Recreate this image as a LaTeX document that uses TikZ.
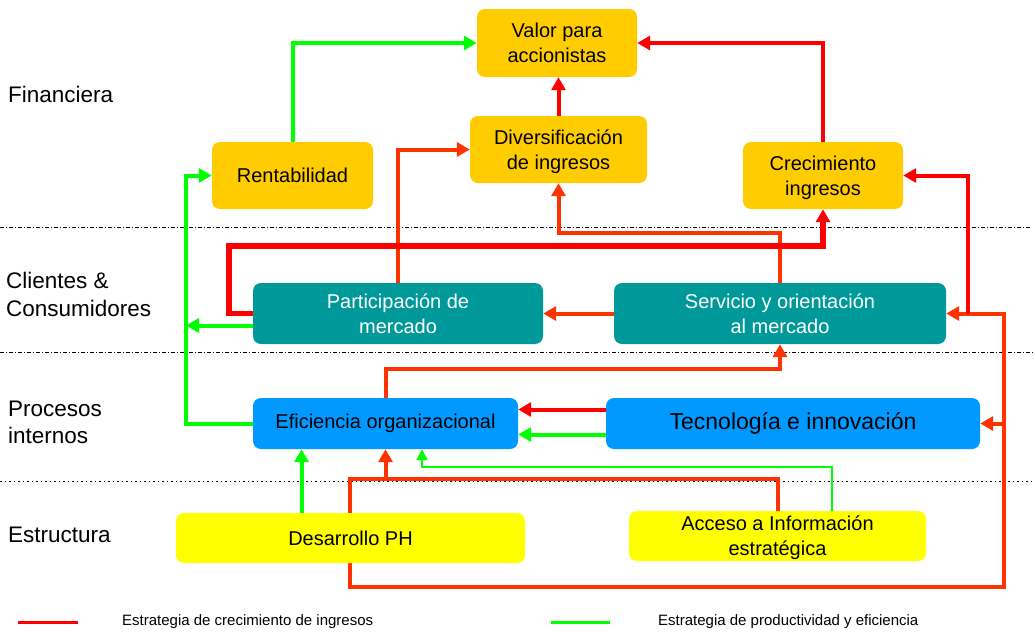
\documentclass[tikz,border=0pt]{standalone}
\usepackage{fontspec}
\setmainfont{Liberation Sans}
\usetikzlibrary{arrows.meta,calc,backgrounds}
\definecolor{gold}{HTML}{FFCC00}
\definecolor{tealb}{HTML}{009999}
\definecolor{azul}{HTML}{0099FF}
\definecolor{amar}{HTML}{FFFF00}
\definecolor{verde}{HTML}{00FF00}
\definecolor{rojo}{HTML}{FF0000}
\definecolor{rojon}{HTML}{FF3300}
\newcommand\sttop{\rule{0pt}{19pt}}
\newcommand\stbot{\rule[-5pt]{0pt}{5pt}}
\tikzset{
  box/.style={rectangle, rounded corners=8pt, inner sep=0pt, align=center,
    font=\fontsize{20}{25}\selectfont},
  fin/.style={box, fill=gold},
  cli/.style={box, fill=tealb, text=white},
  pro/.style={box, fill=azul},
  est/.style={box, fill=amar},
  lbl/.style={anchor=west, align=left, inner sep=0pt,
    font=\fontsize{22.5}{27.5}\selectfont},
  leg/.style={anchor=west, inner sep=0pt, font=\fontsize{15}{18}\selectfont},
  harrow/.style={-{Triangle[length=13pt,width=14pt]}},
  gl/.style={draw=verde, line width=4pt, harrow},
  glthin/.style={draw=verde, line width=2pt, -{Triangle[length=11pt,width=11pt]}},
  rl/.style={draw=rojo, line width=4pt, harrow},
  ol/.style={draw=rojon, line width=4pt, harrow},
  rthick/.style={draw=rojo, line width=5.5pt, harrow},
  sepline/.style={draw=black, line width=0.9pt, dash pattern=on 4pt off 2pt on 1pt off 2pt},
  sepdot/.style={draw=black, line width=0.9pt, dash pattern=on 1.5pt off 3pt},
}
\begin{document}
\begin{tikzpicture}[x=1pt,y=-1pt]
\useasboundingbox (0,0) rectangle (1035,635);

% layer labels
\node[lbl] (lfin) at (8,94) {Financiera};
\node[lbl] (lcli) at (6,294.5) {Clientes \&\\Consumidores};
\node[lbl] (lpro) at (8,422.5) {Procesos\\internos};
\node[lbl] (lest) at (8,535) {Estructura};

% boxes
\node[fin, minimum width=160pt, minimum height=68pt] (valor) at (557,43) {\sttop Valor para\\accionistas\stbot};
\node[fin, minimum width=161pt, minimum height=67pt] (rent) at (292.5,175.5) {Rentabilidad};
\node[fin, minimum width=177pt, minimum height=67pt] (diver) at (558.5,149.5) {\sttop Diversificación\\de ingresos\stbot};
\node[fin, minimum width=160pt, minimum height=67pt] (crec) at (823,175.5) {\sttop Crecimiento\\ingresos\stbot};
\node[cli, minimum width=290pt, minimum height=61pt] (part) at (398,313.5) {\sttop Participación de\\mercado\stbot};
\node[cli, minimum width=332pt, minimum height=61pt] (serv) at (780,313.5) {\sttop Servicio y orientación\\al mercado\stbot};
\node[pro, minimum width=265pt, minimum height=51pt] (efic) at (385.5,423.5) {Eficiencia organizacional};
\node[pro, minimum width=374pt, minimum height=51pt, font=\fontsize{23}{28}\selectfont] (tecn) at (793,423.5) {Tecnología e innovación};
\node[est, minimum width=349pt, minimum height=50pt] (desa) at (350.5,538) {Desarrollo PH};
\node[est, minimum width=297pt, minimum height=50pt] (acce) at (777.5,536) {\sttop Acceso a Información\\estratégica\stbot};

% legend
\coordinate (lr1) at (18,622); \coordinate (lr2) at (78,622);
\coordinate (lg1) at (551,622); \coordinate (lg2) at (610,622);
\draw[draw=rojo, line width=3pt] (lr1) -- (lr2);
\draw[draw=verde, line width=3pt] (lg1) -- (lg2);
\node[leg] (legr) at (122,622) {Estrategia de crecimiento de ingresos};
\node[leg] (legg) at (658,622) {Estrategia de productividad y eficiencia};

\begin{scope}[on background layer]
  \fill[white] (0,0) rectangle (1035,635);
  % separators
  \draw[sepline] (0,227) -- (1030,227);
  \draw[sepline] (0,352) -- (1035,352);
  \draw[sepdot] (0,481) -- (1035,481);

  % green connectors
  \coordinate (gx) at (186,300);
  \draw[gl] (rent.north) |- (valor.west);
  \draw[gl] (efic.west) -- (efic.west -| gx) |- (rent.west);
  \coordinate (p1) at ($(part.west)+(0,12)$);
  \draw[gl] (p1) -- (p1 -| gx);
  \coordinate (t1) at ($(tecn.west)+(0,11)$);
  \draw[gl] (t1) -- (t1 -| efic.east);
  \coordinate (d1) at ([xshift=-49pt]desa.north);
  \draw[gl] (d1) -- (d1 |- efic.south);
  \coordinate (a1) at ([xshift=54pt]acce.north);
  \coordinate (gt) at (422,467);
  \draw[glthin] (a1) |- (gt) -- (gt |- efic.south);

  % red connectors
  \draw[rl] (diver.north) -- (diver.north |- valor.south);
  \draw[rl] (crec.north) |- (valor.east);
  \draw[ol] (part.north) |- (diver.west);
  \draw[ol] (serv.north) -- ++(0,-50) -| (diver.south);
  \draw[rthick] (part.west) -- ++(-24,0) |- ($(crec.south)+(0,37)$) -- (crec.south);
  \draw[ol] (serv.west) -- (part.east);
  \coordinate (t2) at ($(tecn.west)+(0,-14)$);
  \draw[rl] (t2) -- (t2 -| efic.east);
  \draw[ol] (efic.north) -- ++(0,-29) -| (serv.south);
  \coordinate (rj) at (350,479);
  \coordinate (rb) at (1004,587);
  \draw[ol] (acce.north) |- (rj) -- (rj |- rb) -- (rb) |- (serv.east);
  \draw[ol] (tecn.east -| rb) -- (tecn.east);
  \draw[ol] (efic.south |- rj) -- (efic.south);
  \coordinate (s1) at ($(serv.east)+(22,0)$);
  \draw[rl] (s1) |- (crec.east);
\end{scope}
\end{tikzpicture}
\end{document}
